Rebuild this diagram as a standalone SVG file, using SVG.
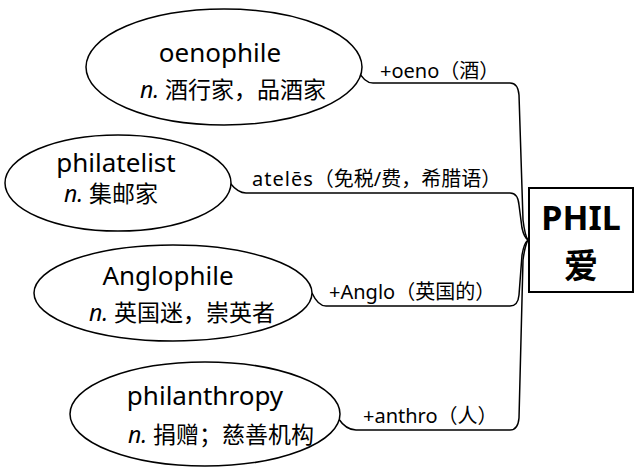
<svg xmlns="http://www.w3.org/2000/svg" width="636" height="473" viewBox="0 0 636 473">
<style>
.node ellipse{fill:#fff;stroke:#000;stroke-width:1.5}
.t{font-family:"Noto Sans","Noto Sans CJK SC",sans-serif;fill:#000;text-anchor:middle}
.w{font-size:26px}
.c{font-size:23px}
.lab{font-family:"Noto Sans","Noto Sans CJK SC",sans-serif;font-size:20px;fill:#000}
.conn path{fill:none;stroke:#000;stroke-width:1.5}
.box rect{fill:#fff;stroke:#000;stroke-width:2}
.b{font-family:"Noto Sans","Noto Sans CJK SC",sans-serif;font-weight:bold;font-size:34px;text-anchor:middle}
</style>
<rect width="636" height="473" fill="#fff"/>
<g id="connectors" class="conn">
<path d="M358,70 Q364,83 373,83 L510,83 Q518,83 519,95 L523,220 Q525,236 528,240"/>
<path d="M230,183 Q238,193 246,193 L510,193 Q518,193 519,205 L522,228 Q524,237 528,240"/>
<path d="M312,293 Q318,306 326,306 L510,306 Q518,306 519,295 L522,255 Q524,243 528,240"/>
<path d="M338,418 Q346,430 356,430 L510,430 Q518,430 519,418 L523,260 Q525,245 528,240"/>
</g>
<g id="labels">
<text class="lab" x="380" y="78">+oeno（酒）</text>
<text class="lab" x="252" y="186"><tspan letter-spacing="1">atelēs</tspan>（免税/费，希腊语）</text>
<text class="lab" x="329" y="299">+Anglo（英国的）</text>
<text class="lab" x="363" y="423">+anthro（人）</text>
</g>
<g id="oenophile" class="node">
<ellipse cx="224" cy="67" rx="138" ry="58"/>
<text class="t w" x="220" y="62">oenophile</text>
<text class="t c" x="233" y="98"><tspan font-style="italic">n.</tspan> 酒行家，品酒家</text>
</g>
<g id="philatelist" class="node">
<ellipse cx="118" cy="183" rx="113" ry="48"/>
<text class="t w" x="116" y="172">philatelist</text>
<text class="t c" x="111" y="202"><tspan font-style="italic">n.</tspan> 集邮家</text>
</g>
<g id="Anglophile" class="node">
<ellipse cx="173" cy="293" rx="139" ry="48"/>
<text class="t w" x="168" y="285">Anglophile</text>
<text class="t c" x="182" y="321"><tspan font-style="italic">n.</tspan> 英国迷，崇英者</text>
</g>
<g id="philanthropy" class="node">
<ellipse cx="205" cy="414" rx="135" ry="52"/>
<text class="t w" x="205" y="405">philanthropy</text>
<text class="t c" x="221" y="443"><tspan font-style="italic">n.</tspan> 捐赠；慈善机构</text>
</g>
<g id="PHIL" class="box">
<rect x="529" y="188" width="104" height="104"/>
<text class="b" x="581" y="230">PHIL</text>
<text class="b" x="581" y="278">爱</text>
</g>
</svg>
